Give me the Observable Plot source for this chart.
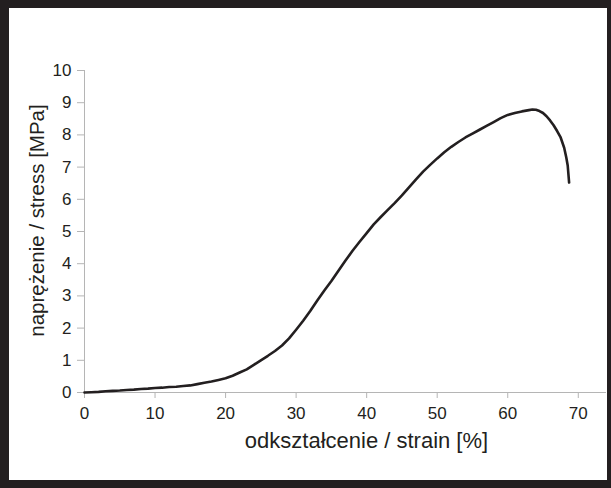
<!DOCTYPE html>
<html>
<head>
<meta charset="utf-8">
<script src="https://cdn.jsdelivr.net/npm/d3@7"></script>
<script src="https://cdn.jsdelivr.net/npm/@observablehq/plot@0.6"></script>
<style>
  body { margin: 0; background: #fff; }
  #wrap { position: relative; width: 611px; height: 488px; overflow: hidden; background: #fff; }
  #frame { position: absolute; left: 0; top: 0; width: 611px; height: 488px; box-sizing: border-box;
           border-style: solid; border-color: #231f20; border-width: 8px 4px 8px 9px; pointer-events: none; }
</style>
</head>
<body>
<div id="wrap"><div id="frame"></div></div>
<script>
const strain = [0,1,2,3,4,5,6,7,8,9,10,11,12,13,14,15,16,17,18,19,20,21,22,23,24,25,26,27,28,29,30,31,32,33,34,35,36,37,38,39,40,41,42,43,44,45,46,47,48,49,50,51,52,53,54,55,56,57,58,59,60,61,62,63,63.5,64,64.5,65,65.5,66,66.5,67,67.5,68,68.3,68.5,68.7];
const stress = [0.00,0.01,0.02,0.04,0.05,0.06,0.08,0.09,0.11,0.12,0.14,0.15,0.17,0.18,0.20,0.22,0.26,0.30,0.34,0.39,0.44,0.52,0.62,0.72,0.86,1.00,1.14,1.29,1.46,1.68,1.95,2.23,2.53,2.86,3.17,3.46,3.78,4.10,4.40,4.68,4.95,5.22,5.45,5.67,5.89,6.12,6.37,6.62,6.86,7.07,7.27,7.46,7.63,7.78,7.92,8.04,8.16,8.28,8.40,8.52,8.62,8.68,8.73,8.77,8.79,8.78,8.74,8.68,8.58,8.45,8.30,8.12,7.92,7.60,7.30,7.05,6.52];
const xTicks = [0,10,20,30,40,50,60,70];
const yTicks = [0,1,2,3,4,5,6,7,8,9,10];
const xTitle = "odkształcenie / strain [%]";
const yTitle = "naprężenie / stress [MPa]";

const data = strain.map((s, i) => ({strain: s, stress: stress[i]}));

const chart = Plot.plot({
  width: 611,
  height: 488,
  marginLeft: 84,
  marginRight: 5,
  marginTop: 70,
  marginBottom: 96,
  style: {fontFamily: "'Liberation Sans', Arial, sans-serif", fontSize: "17px", color: "#231f20", background: "transparent"},
  x: {domain: [0, 74]},
  y: {domain: [0, 10]},
  marks: [
    Plot.ruleY([0], {stroke: "#b5b5b5", strokeWidth: 1}),
    Plot.ruleX([0], {stroke: "#b5b5b5", strokeWidth: 1}),
    Plot.axisX({ticks: xTicks, tickSize: 6, tickPadding: 8, stroke: "#b5b5b5", strokeOpacity: 1, fill: "#231f20", label: null, fontSize: 17}),
    Plot.axisY({ticks: yTicks, tickSize: 7, tickPadding: 6, stroke: "#b5b5b5", strokeOpacity: 1, fill: "#231f20", label: null, fontSize: 17}),
    Plot.line(data, {x: "strain", y: "stress", stroke: "#231f20", strokeWidth: 2.6}),
    Plot.text([xTitle], {frameAnchor: "bottom", textAnchor: "middle", dx: 21, dy: 55, lineAnchor: "bottom", fontSize: 22, fill: "#231f20"}),
    Plot.text([yTitle], {frameAnchor: "left", textAnchor: "middle", rotate: -90, dx: -47, dy: -11, lineAnchor: "middle", fontSize: 20.5, fill: "#231f20"})
  ]
});
document.getElementById("wrap").insertBefore(chart, document.getElementById("frame"));
chart.style.position = "absolute";
chart.style.left = "0px";
chart.style.top = "0px";
</script>
</body>
</html>
